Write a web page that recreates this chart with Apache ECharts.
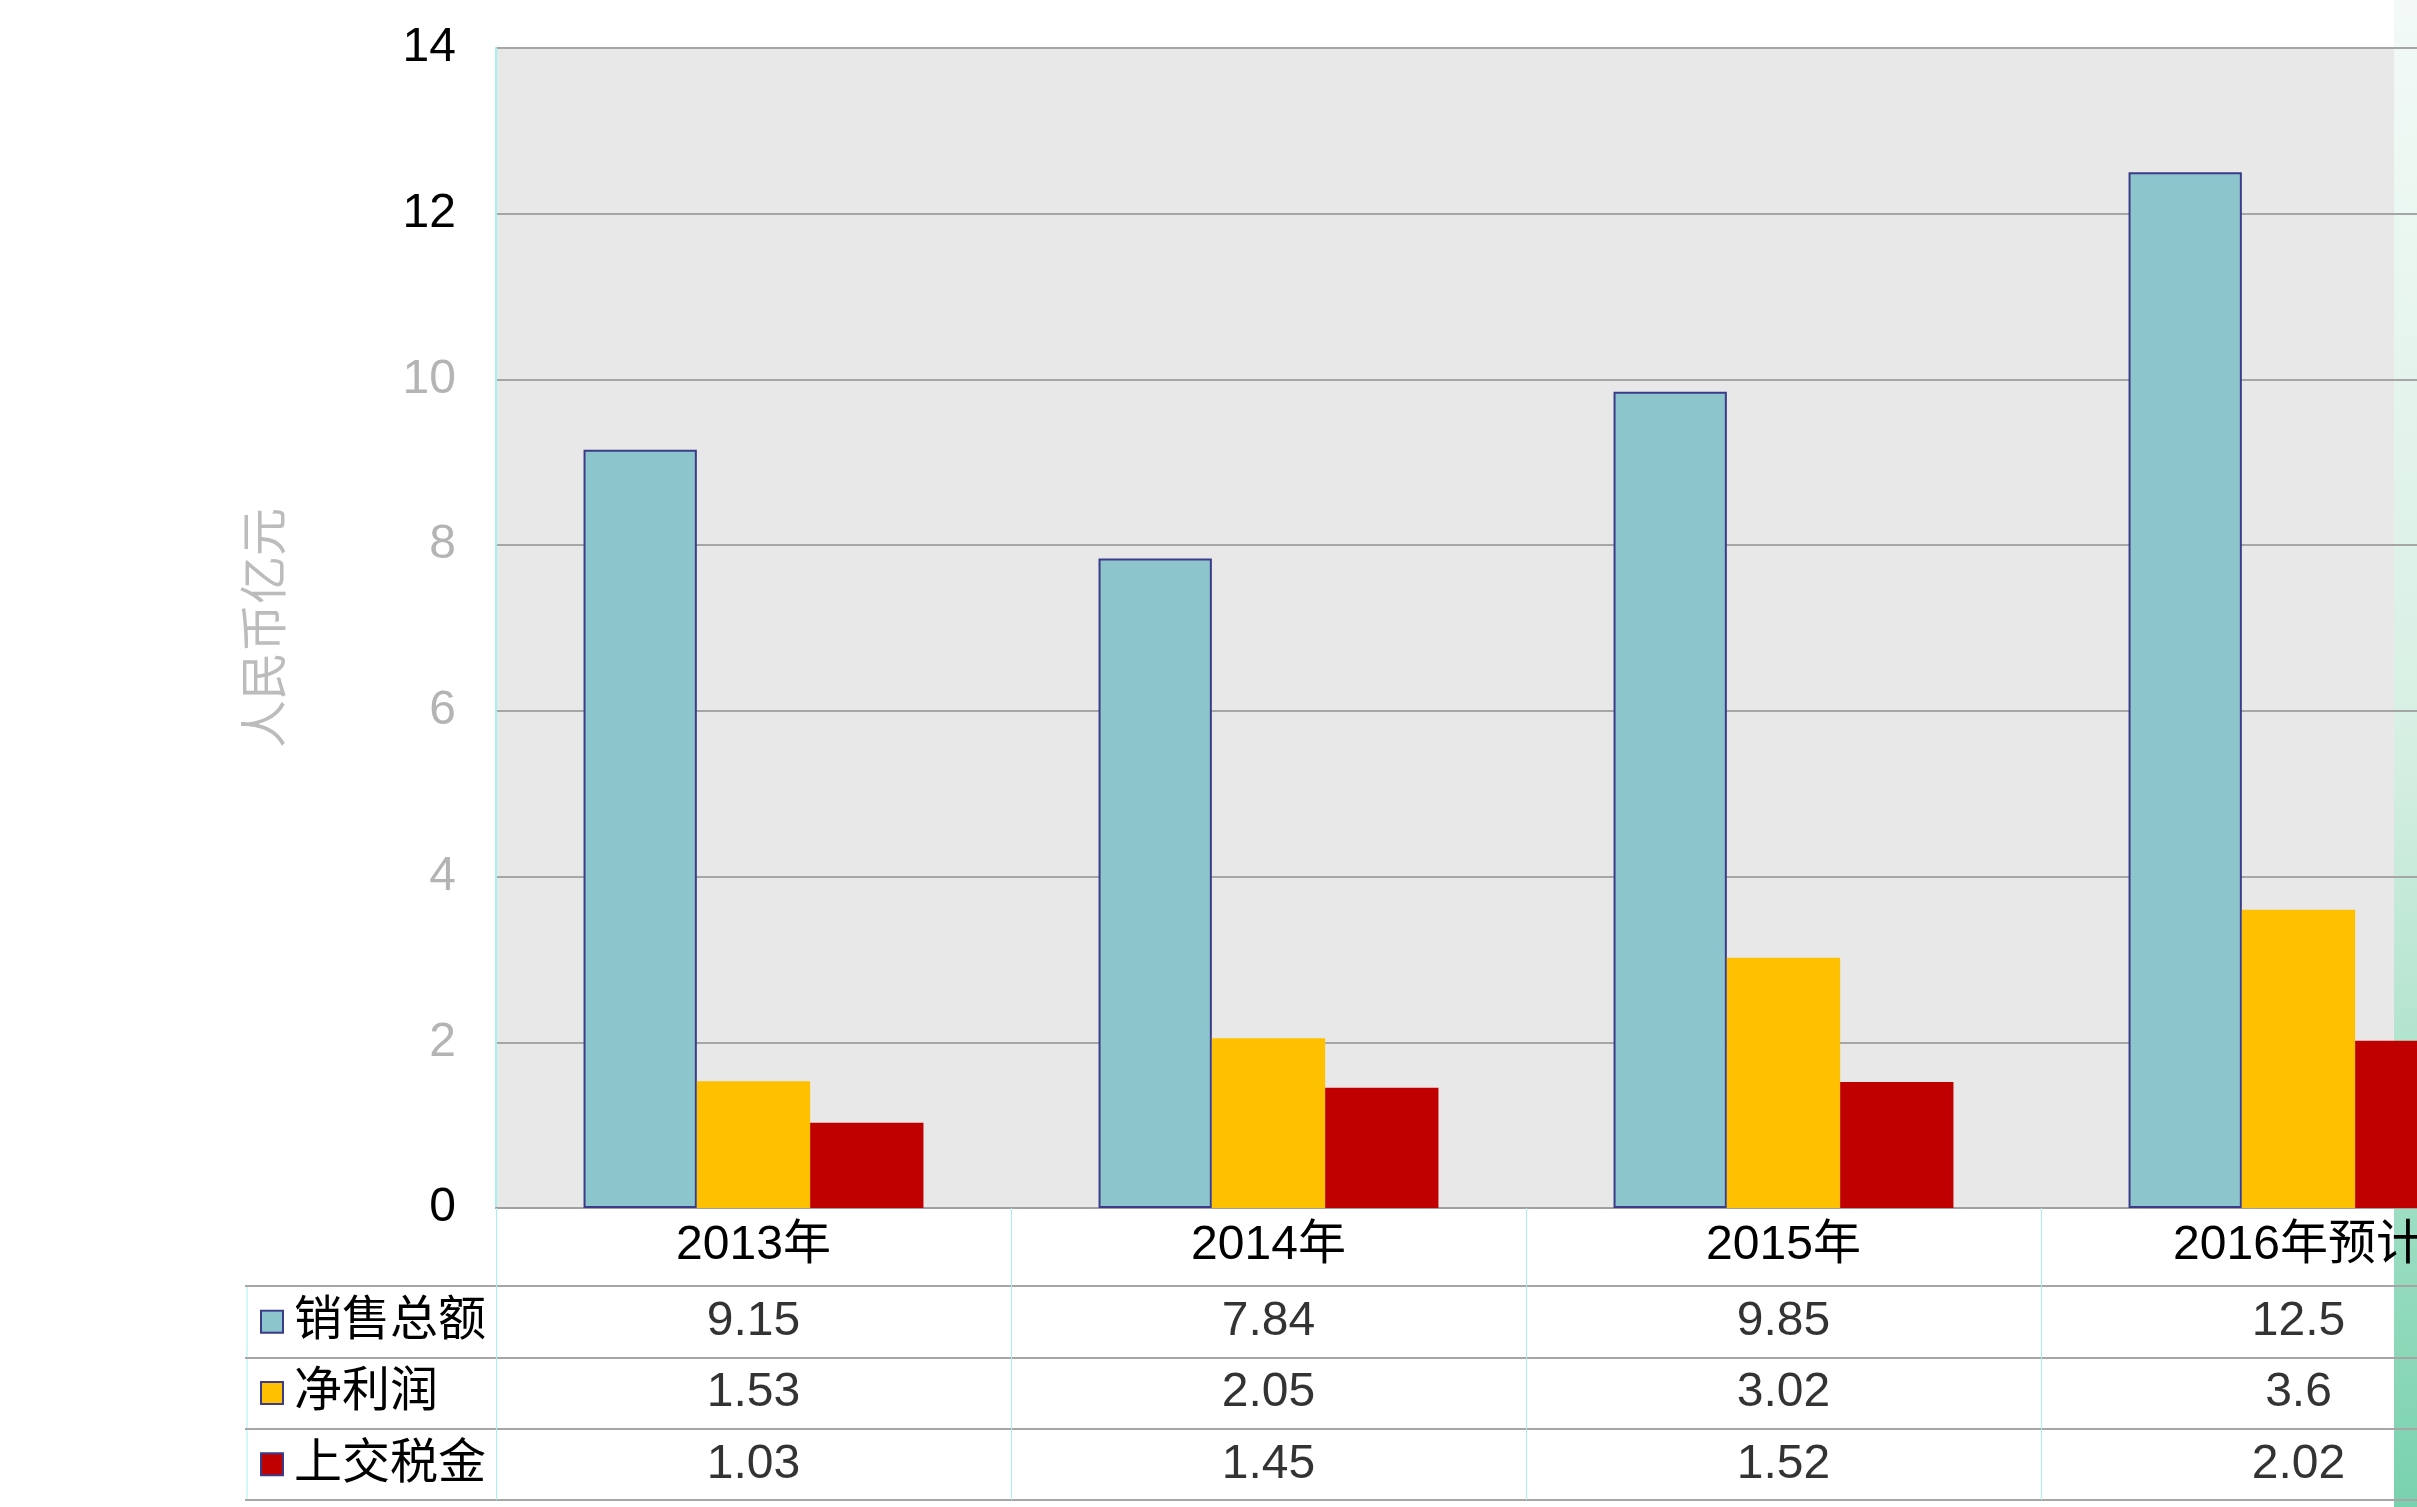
<!DOCTYPE html>
<html>
<head>
<meta charset="utf-8">
<title>销售总额 净利润 上交税金</title>
<script src="https://cdn.jsdelivr.net/npm/echarts@6/dist/echarts.min.js"></script>
<style>
html, body { margin: 0; padding: 0; background: #fff; }
#chart { width: 2417px; height: 1507px; }
</style>
</head>
<body>
<div id="chart"></div>
<script>
// data
const years = ['2013年', '2014年', '2015年', '2016年预计']
const rowNames = ['销售总额', '净利润', '上交税金']
const sales = [9.15, 7.84, 9.85, 12.5]
const profit = [1.53, 2.05, 3.02, 3.6]
const tax = [1.03, 1.45, 1.52, 2.02]
const yTicks = [0, 2, 4, 6, 8, 10, 12, 14]

const colors = ['#8cc6cc', '#ffc000', '#c00000']
const font = '"Liberation Sans", "Noto Sans CJK SC", sans-serif'
const fs = 48
const rows = [sales, profit, tax]

// table cells: one point per value, label shows the value
let cells = []
rows.forEach((vals, r) => {
    vals.forEach((v, i) => {
        cells.push({ value: [i, r], label: { formatter: String(v) } })
    })
})

let chart = echarts.init(document.getElementById('chart'))
let option = {
    backgroundColor: '#ffffff',
    textStyle: { fontFamily: font },
    grid: [
        { left: 496, top: 48, width: 2060, height: 1160, show: true, backgroundColor: '#e8e8e8', borderWidth: 0, outerBoundsMode: 'none' },
        { left: 496, top: 1286, width: 2060, height: 214, outerBoundsMode: 'none' }
    ],
    xAxis: [
        {
            type: 'category',
            gridIndex: 0,
            data: years,
            axisLine: { lineStyle: { color: '#a0a0a0', width: 2 } },
            axisTick: { show: true, length: 78, lineStyle: { color: '#a6f0f0', width: 1 } },
            axisLabel: { fontSize: fs, color: '#000', margin: 14, fontFamily: font }
        },
        {
            type: 'category',
            gridIndex: 1,
            data: years,
            axisLine: { show: false },
            axisTick: { show: false },
            axisLabel: { show: false },
            splitLine: { show: true, lineStyle: { color: '#a6f0f0', width: 1 } }
        }
    ],
    yAxis: [
        {
            type: 'value',
            gridIndex: 0,
            min: 0,
            max: 14,
            interval: 2,
            name: '人民币亿元',
            nameLocation: 'middle',
            nameRotate: 90,
            nameGap: 204,
            nameTextStyle: { fontSize: fs, color: '#bcbcbc', fontFamily: font },
            axisLine: { show: true, lineStyle: { color: '#a6f0f0', width: 2 } },
            axisTick: { show: false },
            axisLabel: {
                fontSize: fs,
                margin: 40,
                fontFamily: font,
                formatter: v => (yTicks.indexOf(v) >= 0 ? String(v) : ''),
                color: v => (Number(v) === 0 || Number(v) >= 12 ? '#000' : '#b4b4b4')
            },
            splitLine: { lineStyle: { color: '#a6a6a6', width: 2 } }
        },
        {
            type: 'category',
            gridIndex: 1,
            inverse: true,
            data: rowNames,
            axisLine: { show: false },
            axisTick: { show: true, length: 251, lineStyle: { color: '#a6a6a6', width: 2 } },
            splitLine: { show: true, lineStyle: { color: '#a6a6a6', width: 2 } },
            axisLabel: {
                align: 'left',
                margin: 234,
                fontSize: fs,
                color: '#000',
                fontFamily: font,
                formatter: (v, i) => '{s' + i + '|}{t|' + v + '}',
                rich: {
                    s0: { width: 20, height: 20, backgroundColor: colors[0], borderColor: '#3b3b8a', borderWidth: 2 },
                    s1: { width: 20, height: 20, backgroundColor: colors[1], borderColor: '#3b3b8a', borderWidth: 2 },
                    s2: { width: 20, height: 20, backgroundColor: colors[2], borderColor: '#3b3b8a', borderWidth: 2 },
                    t: { fontSize: fs, color: '#000', padding: [0, 0, 0, 12], fontFamily: font }
                }
            }
        }
    ],
    series: [
        {
            name: rowNames[0],
            type: 'bar',
            xAxisIndex: 0,
            yAxisIndex: 0,
            data: sales,
            barGap: '0%',
            barCategoryGap: '34%',
            itemStyle: { color: colors[0], borderColor: '#3b3b8a', borderWidth: 2 }
        },
        {
            name: rowNames[1],
            type: 'bar',
            xAxisIndex: 0,
            yAxisIndex: 0,
            data: profit,
            barGap: '0%',
            barCategoryGap: '34%',
            itemStyle: { color: colors[1] }
        },
        {
            name: rowNames[2],
            type: 'bar',
            xAxisIndex: 0,
            yAxisIndex: 0,
            data: tax,
            barGap: '0%',
            barCategoryGap: '34%',
            itemStyle: { color: colors[2] }
        },
        {
            name: 'table',
            type: 'scatter',
            xAxisIndex: 1,
            yAxisIndex: 1,
            symbolSize: 1,
            itemStyle: { color: 'transparent' },
            label: { show: true, position: 'inside', fontSize: fs, color: '#000', fontFamily: font },
            data: cells,
            silent: true
        }
    ],
    graphic: [
        // left border of the table's label column
        { type: 'line', shape: { x1: 247, y1: 1286, x2: 247, y2: 1500 }, style: { stroke: '#a6f0f0', lineWidth: 1 } },
        // green strip on the right edge
        {
            type: 'rect',
            shape: { x: 2394, y: 0, width: 23, height: 1507 },
            style: {
                fill: new echarts.graphic.LinearGradient(0, 0, 0, 1, [
                    { offset: 0, color: '#f3faf7' },
                    { offset: 0.5, color: '#d6efe3' },
                    { offset: 1, color: '#78d2ae' }
                ])
            }
        }
    ]
}
chart.setOption(option)
window.addEventListener('resize', () => {
    chart.resize()
})
</script>
</body>
</html>
